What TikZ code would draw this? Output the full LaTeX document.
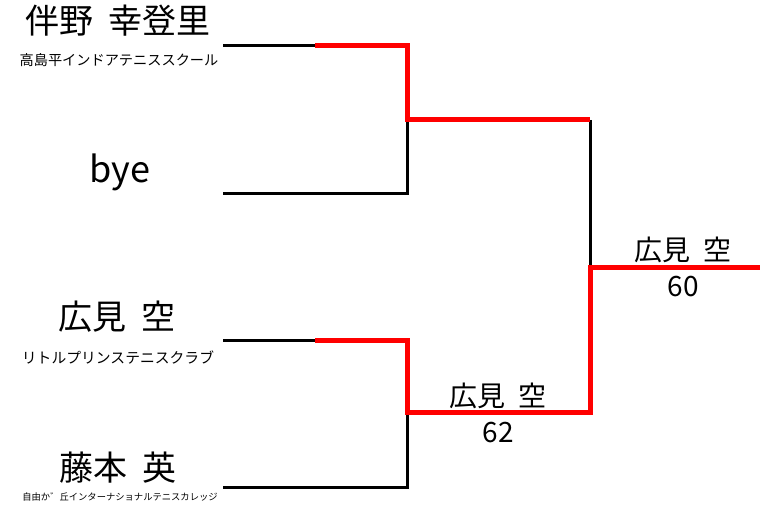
\documentclass[tikz,border=0pt]{standalone}
\usepackage{fontspec}
\setmainfont[WordSpace=2]{Noto Sans CJK JP}
\begin{document}
\begin{tikzpicture}[x=1pt, y=1pt]
\tikzset{bkline/.style={draw=black, line width=3pt}}
\tikzset{wnline/.style={draw=red, line width=5pt, line join=miter}}
\tikzset{plname/.style={inner sep=0pt, font=\fontsize{34}{36}\selectfont}}
\tikzset{clubname/.style={inner sep=0pt, font=\fontsize{14.8}{17}\selectfont}}
\tikzset{result/.style={inner sep=0pt, font=\fontsize{28}{30}\selectfont}}
\useasboundingbox (0,0) rectangle (760,508);
% players
\node (n1) [plname] at (118, 487) {伴野 幸登里};
\node (c1) [clubname, font=\fontsize{14.2}{17}\selectfont] at (119, 448) {高島平インドアテニススクール};
\node (n2) [plname, font=\fontsize{36}{38}\selectfont] at (120, 336) {bye};
\node (n3) [plname] at (117, 191) {広見 空};
\node (c3) [clubname] at (118, 150) {リトルプリンステニスクラブ};
\node (n4) [plname] at (118, 40) {藤本 英};
\node (c4) [clubname, font=\fontsize{9.3}{11}\selectfont] at (120, 11) {自由か゛丘インターナショナルテニスカレッジ};
% bracket points
\coordinate (a1) at (223, 462);
\coordinate (m1) at (315, 462);
\coordinate (a2) at (223, 314);
\coordinate (a3) at (223, 167);
\coordinate (m3) at (315, 167);
\coordinate (a4) at (223, 20);
\coordinate (s1) at (407, 388);
\coordinate (s2) at (407, 95);
\coordinate (f1) at (590, 388);
\coordinate (f2) at (590, 95);
\coordinate (w) at (590, 240);
\coordinate (e) at (760, 240);
% first round
\draw[bkline] (a1) -- (m1);
\draw[bkline] (a2) -| (s1);
\draw[bkline] (a3) -- (m3);
\draw[bkline] (a4) -| (s2);
\draw[bkline] (f1) -- (w);
\draw[wnline] (m1) -| (s1) -- (f1);
\draw[wnline] (m3) -| (s2) -- (f2) -- (w) -- (e);
% results
\node (r1) [result] at (498, 112) {広見 空};
\node (r1s) [result] at (498, 75) {62};
\node (r2) [result] at (683, 258) {広見 空};
\node (r2s) [result] at (683, 221) {60};
\end{tikzpicture}
\end{document}
